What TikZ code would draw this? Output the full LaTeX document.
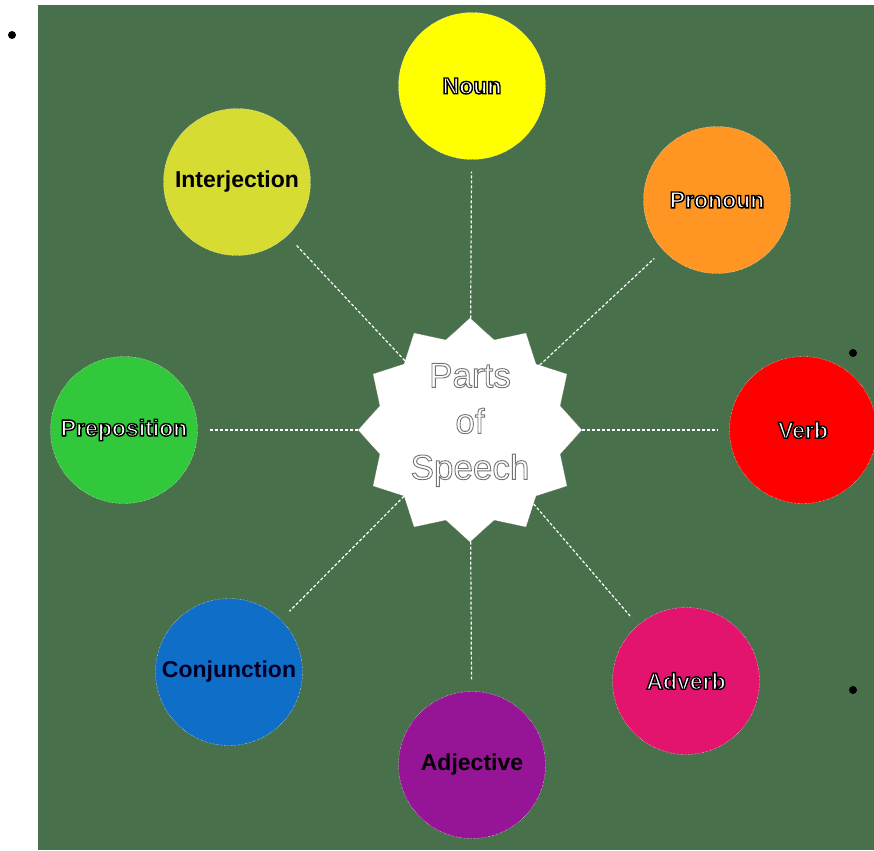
\documentclass[tikz,border=0pt]{standalone}
\usepackage{fontspec}
\setmainfont{Liberation Sans}
\usetikzlibrary{shapes.geometric}
\definecolor{board}{RGB}{72,112,74}
\definecolor{nounyellow}{RGB}{255,255,0}
\definecolor{pronorange}{RGB}{255,150,35}
\definecolor{verbred}{RGB}{255,0,0}
\definecolor{advpink}{RGB}{226,20,110}
\definecolor{adjpurple}{RGB}{150,20,150}
\definecolor{conjblue}{RGB}{15,110,200}
\definecolor{prepgreen}{RGB}{50,200,60}
\definecolor{interlime}{RGB}{215,220,50}
% outlined text: fill in the text colour, stroke in black or grey
\newcommand{\wlabel}[1]{\special{pdf:literal direct 2 Tr 1.4 w 0 0 0 RG}#1\special{pdf:literal direct 0 Tr}}
\newcommand{\glabel}[1]{\special{pdf:literal direct 2 Tr 0.9 w 0.45 0.45 0.45 RG}#1\special{pdf:literal direct 0 Tr}}

\begin{document}
\begin{tikzpicture}[
  x=1pt,
  y=-1pt,
  part/.style={
    circle,
    draw=white,
    densely dotted,
    minimum size=147pt,
    inner sep=0pt,
    font=\fontsize{23}{26}\selectfont\bfseries
  },
  hub/.style={
    star,
    star points=12,
    star point ratio=1.2,
    minimum size=224pt,
    inner sep=0pt,
    fill=white,
    draw=black!55,
    densely dotted
  },
  link/.style={draw=white,line width=1.2pt,dash pattern=on 3pt off 2pt,shorten >=12pt}
]
\useasboundingbox (0,0) rectangle (874,850);
\fill[board] (38,5) rectangle (874,850);

% bullets of the page
\fill (12,35) circle (4pt);
\fill (853,353) circle (4pt);
\fill (853,690) circle (4pt);

\node[hub] (hub) at (470,430) {};
\node[align=center,text=white,font=\fontsize{35}{46}\selectfont]
  (title) at (470,425) {\glabel{Parts}\\\glabel{of}\\\glabel{Speech}};

\node[part,fill=nounyellow,text=white] (noun) at (472,86) {\wlabel{Noun}};
\node[part,fill=pronorange,text=white] (pronoun) at (717,200) {\wlabel{Pronoun}};
\node[part,fill=verbred,text=white] (verb) at (803,430) {\wlabel{Verb}};
\node[part,fill=advpink,text=white] (adverb) at (686,681) {\wlabel{Adverb}};
\node[part,fill=adjpurple,text=black] (adjective) at (472,765) {Adjective};
\node[part,fill=conjblue,text=black!85!blue] (conjunction) at (229,672) {Conjunction};
\node[part,fill=prepgreen,text=white] (preposition) at (124,430) {\wlabel{Preposition}};
\node[part,fill=interlime,text=black] (interjection) at (237,182) {Interjection};

\draw[link] (hub) -- (noun);
\draw[link] (hub) -- (pronoun);
\draw[link] (hub) -- (verb);
\draw[link] (hub) -- (adverb);
\draw[link] (hub) -- (adjective);
\draw[link] (hub) -- (conjunction);
\draw[link] (hub) -- (preposition);
\draw[link] (hub) -- (interjection);
\end{tikzpicture}
\end{document}
